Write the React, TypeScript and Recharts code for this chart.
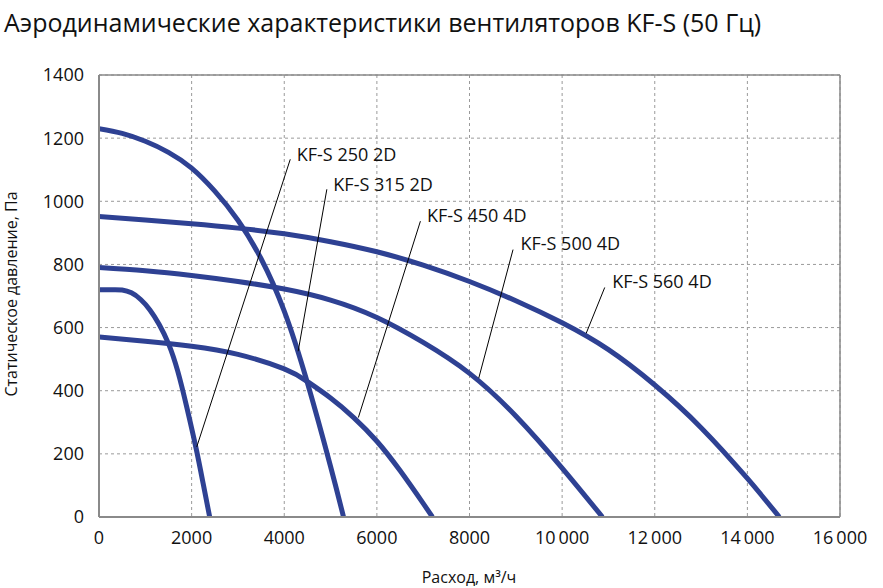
import React from "react";
import {
  CartesianGrid,
  Line,
  LineChart,
  ReferenceDot,
  ReferenceLine,
  XAxis,
  YAxis,
} from "recharts";

// расход, м³/ч  /  статическое давление, Па
const flowKFS250 = [0, 300, 500, 700, 900, 1100, 1300, 1500, 1700, 1900, 2100, 2250, 2390];
const pressureKFS250 = [720, 720, 719, 710, 689, 656, 610, 549, 462, 345, 215, 105, 0];

const flowKFS315 = [0, 500, 1000, 1500, 2000, 2500, 3000, 3500, 4000, 4500, 5000, 5280];
const pressureKFS315 = [1230, 1215, 1190, 1155, 1105, 1032, 940, 818, 652, 425, 160, 0];

const flowKFS450 = [0, 1000, 2000, 3000, 4000, 4500, 5000, 5500, 6000, 6500, 7000, 7200];
const pressureKFS450 = [570, 557, 541, 515, 469, 429, 377, 315, 240, 147, 43, 0];

const flowKFS500 = [0, 1000, 2000, 3000, 4000, 5000, 6000, 7000, 8000, 9000, 10000, 10870];
const pressureKFS500 = [790, 780, 765, 746, 722, 687, 632, 553, 455, 320, 155, 0];

const flowKFS560 = [0, 1000, 2000, 3000, 4000, 5000, 6000, 7000, 8000, 9000, 10000, 11000, 12000, 13000, 14000, 14690];
const pressureKFS560 = [952, 941, 929, 915, 897, 872, 840, 798, 746, 685, 615, 530, 418, 283, 122, 0];

const seriesNames = ["KF-S 250 2D", "KF-S 315 2D", "KF-S 450 4D", "KF-S 500 4D", "KF-S 560 4D"];

const xTicks = [0, 2000, 4000, 6000, 8000, 10000, 12000, 14000, 16000];
const yTicks = [0, 200, 400, 600, 800, 1000, 1200, 1400];

// подписи: начало текста и выноска (в координатах данных)
const labelFlow = [4270, 5060, 7080, 9100, 11080];
const labelPressure = [1148, 1053, 954, 865, 744];
const leaderFrom = [
  [4130, 1133],
  [4920, 1038],
  [6940, 937],
  [8940, 847],
  [10920, 727],
];
const leaderTo = [
  [2110, 222],
  [4300, 525],
  [5600, 315],
  [8200, 440],
  [10520, 582],
];

const toPoints = (flow: number[], pressure: number[]) =>
  flow.map((q, i) => ({ q, p: pressure[i] }));

const curves = [
  toPoints(flowKFS250, pressureKFS250),
  toPoints(flowKFS315, pressureKFS315),
  toPoints(flowKFS450, pressureKFS450),
  toPoints(flowKFS500, pressureKFS500),
  toPoints(flowKFS560, pressureKFS560),
];

const FONT = '"Open Sans", "Noto Sans", sans-serif';
const CURVE = "#2E4193";
const BORDER = "#8a8a8a";

const formatFlow = (v: number) =>
  v >= 10000 ? String(v).replace(/(\d+)(\d{3})$/, "$1\u2009$2") : String(v);

export default function App() {
  return (
    <div
      style={{
        position: "absolute",
        left: 0,
        top: 0,
        width: 883,
        height: 588,
        background: "#fff",
        fontFamily: FONT,
        color: "#111",
      }}
    >
      <div
        style={{
          position: "absolute",
          left: 4,
          top: 6,
          fontSize: 25,
          lineHeight: "32px",
          whiteSpace: "nowrap",
        }}
      >
        Аэродинамические характеристики вентиляторов KF-S (50 Гц)
      </div>
      <div
        style={{
          position: "absolute",
          left: 11,
          top: 294,
          fontSize: 16,
          whiteSpace: "nowrap",
          transform: "translate(-50%, -50%) rotate(-90deg)",
        }}
      >
        Статическое давление, Па
      </div>
      <div
        style={{
          position: "absolute",
          left: 469,
          top: 577,
          fontSize: 16,
          whiteSpace: "nowrap",
          transform: "translate(-50%, -50%)",
        }}
      >
        Расход, м³/ч
      </div>
      <LineChart
        width={883}
        height={588}
        margin={{ top: 75, right: 43, bottom: 0, left: 0 }}
        style={{ position: "absolute", left: 0, top: 0 }}
      >
        <CartesianGrid stroke="#9a9a9a" strokeDasharray="3 3" strokeWidth={1} />
        <XAxis
          type="number"
          dataKey="q"
          domain={[0, 16000]}
          ticks={xTicks}
          tickFormatter={formatFlow}
          height={71}
          tickLine={false}
          tickSize={0}
          tickMargin={14}
          axisLine={{ stroke: BORDER, strokeWidth: 2 }}
          tick={{ fontSize: 18, fill: "#111", fontFamily: FONT }}
          allowDataOverflow
        />
        <YAxis
          type="number"
          domain={[0, 1400]}
          ticks={yTicks}
          width={99}
          tickLine={false}
          tickSize={0}
          tickMargin={15}
          axisLine={{ stroke: BORDER, strokeWidth: 2 }}
          tick={{ fontSize: 18, fill: "#111", fontFamily: FONT }}
          allowDataOverflow
        />
        <ReferenceLine y={1400} stroke={BORDER} strokeWidth={1.5} />
        <ReferenceLine x={16000} stroke={BORDER} strokeWidth={1.5} />
        {curves.map((pts, i) => (
          <Line
            key={seriesNames[i]}
            data={pts}
            dataKey="p"
            type="natural"
            stroke={CURVE}
            strokeWidth={5}
            dot={false}
            activeDot={false}
            isAnimationActive={false}
          />
        ))}
        {seriesNames.map((name, i) => (
          <ReferenceLine
            key={"lead-" + name}
            segment={[
              { x: leaderFrom[i][0], y: leaderFrom[i][1] },
              { x: leaderTo[i][0], y: leaderTo[i][1] },
            ]}
            stroke="#000"
            strokeWidth={1}
          />
        ))}
        {seriesNames.map((name, i) => (
          <ReferenceDot
            key={"lbl-" + name}
            x={labelFlow[i]}
            y={labelPressure[i]}
            r={0}
            stroke="none"
            fill="none"
            label={{
              value: name,
              position: "right",
              offset: 0,
              fill: "#111",
              fontSize: 18,
              fontFamily: FONT,
            }}
          />
        ))}
      </LineChart>
    </div>
  );
}
